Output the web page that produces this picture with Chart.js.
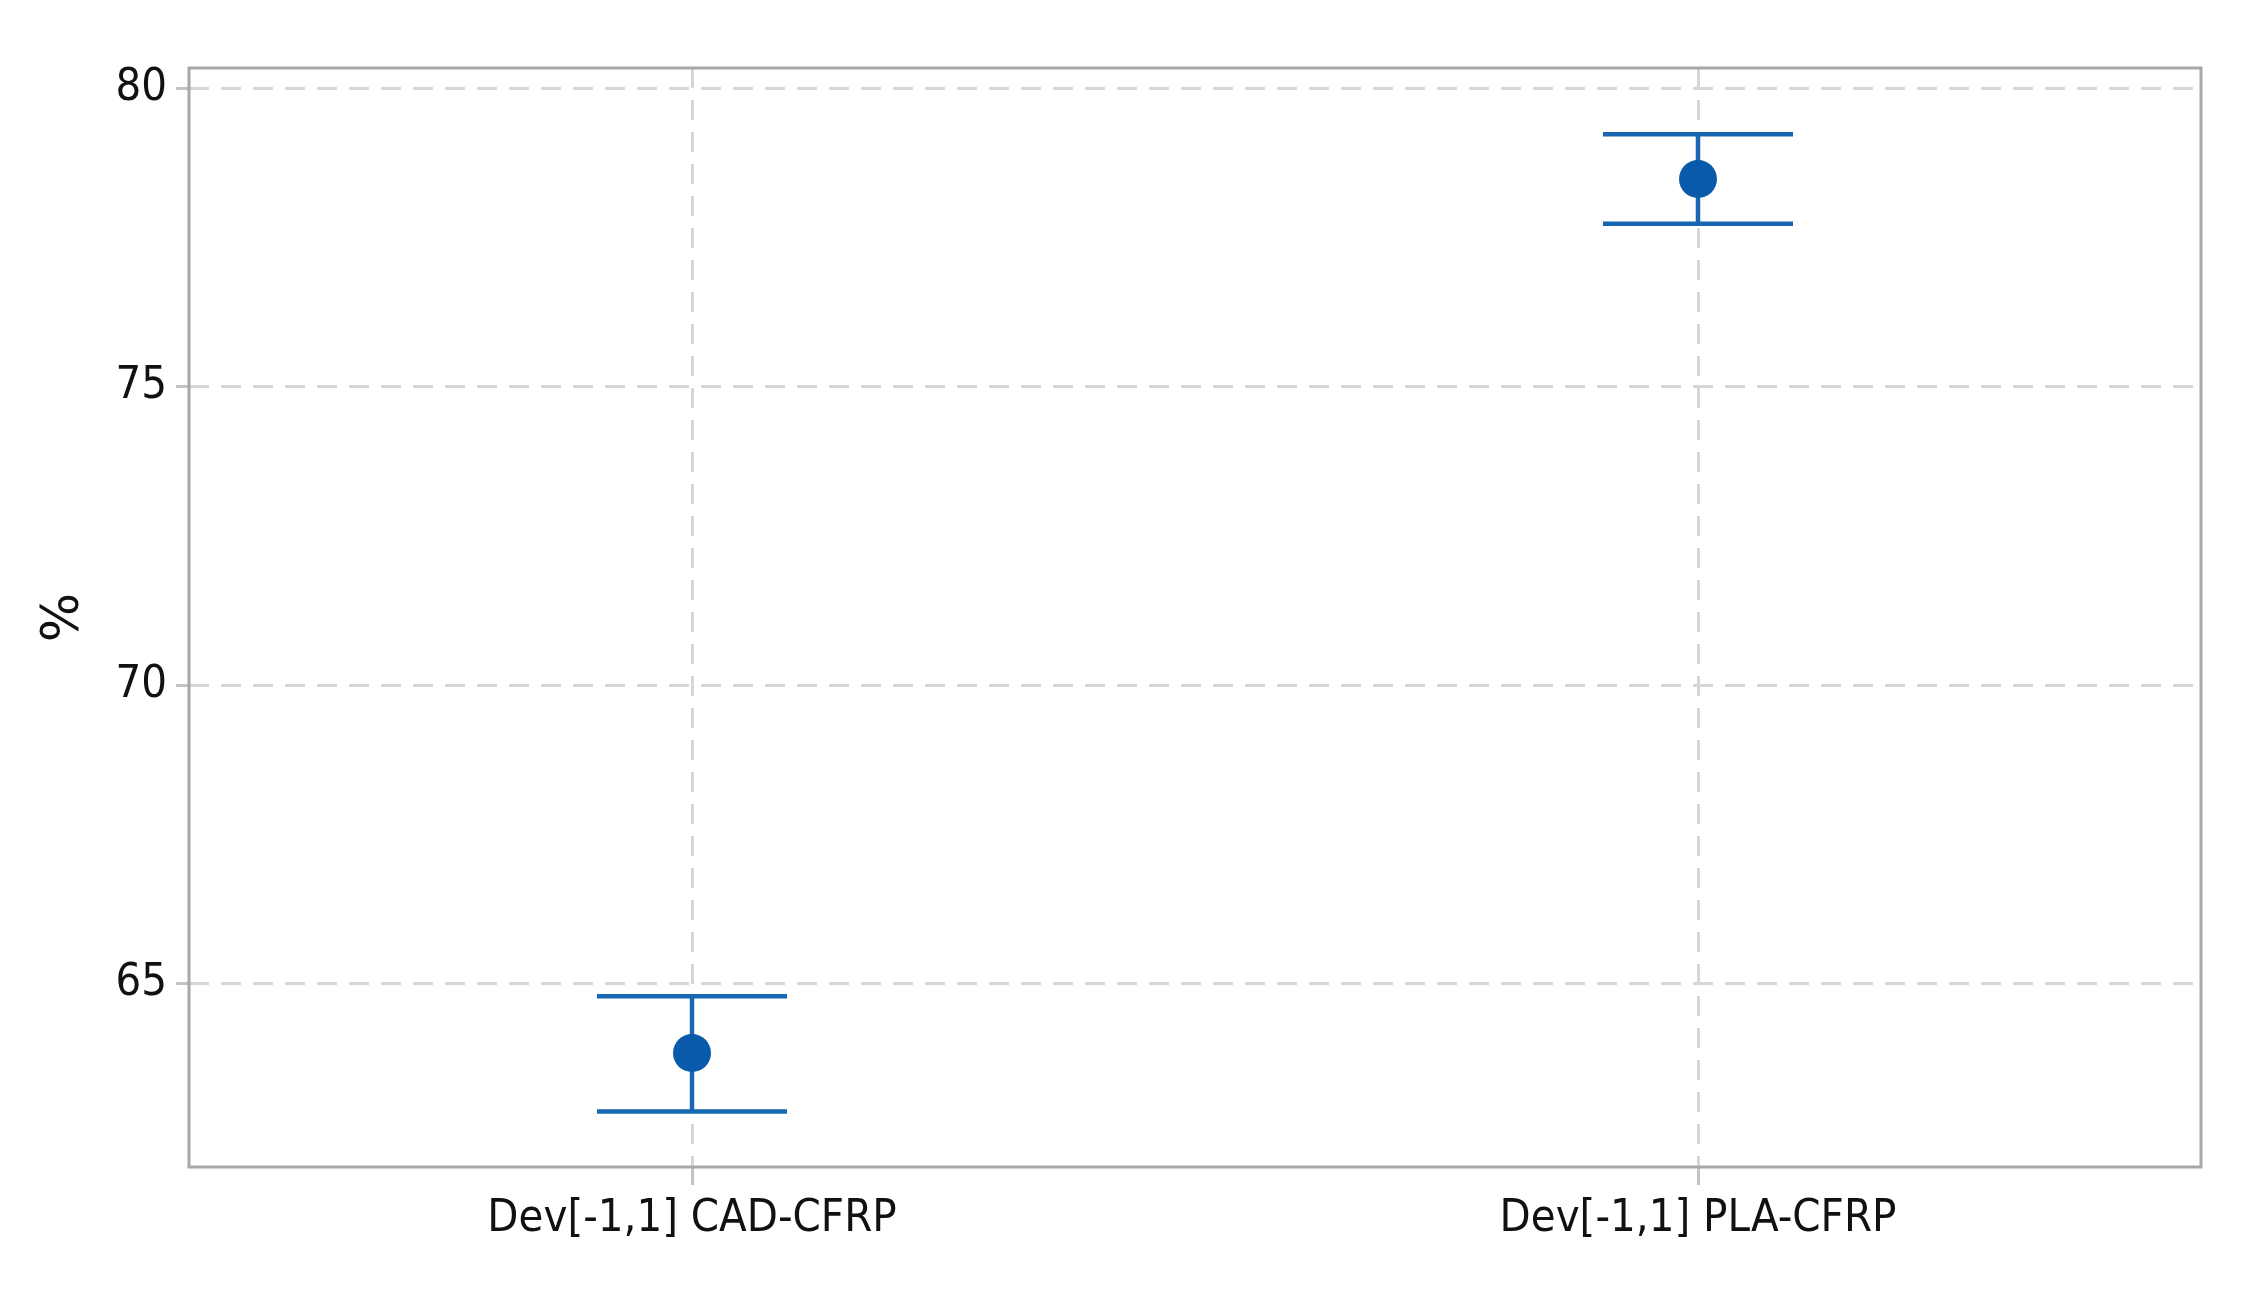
<!DOCTYPE html>
<html><head><meta charset="utf-8">
<script src="https://cdn.jsdelivr.net/npm/chart.js@4/dist/chart.umd.min.js"></script>
<style>html,body{margin:0;padding:0;background:#fff}#wrap{width:2246px;height:1289px}</style>
</head><body><div id="wrap"><canvas id="c" width="2246" height="1289"></canvas></div>
<script>
const categories = ['Dev[-1,1] CAD-CFRP', 'Dev[-1,1] PLA-CFRP'];
const meanValues = [63.84, 78.48];
const lowerValues = [62.86, 77.73];
const upperValues = [64.79, 79.23];
const yTickValues = [65, 70, 75, 80];
const yAxisTitle = '%';
const yMin = 61.93, yMax = 80.34;

const FONT = "'DejaVu Sans Condensed', 'DejaVu Sans', sans-serif";
const LINE_COLOR = '#1768b0';
const POINT_COLOR = '#0a5aab';

const framePlugin = {
  id: 'frameAndErrors',
  beforeDatasetsDraw(chart) {
    const {ctx, chartArea: a, scales} = chart;
    ctx.save();
    ctx.strokeStyle = '#a8a8a8';
    ctx.lineWidth = 3;
    ctx.strokeRect(a.left, a.top, a.right - a.left, a.bottom - a.top);
    ctx.strokeStyle = LINE_COLOR;
    ctx.lineWidth = 4.5;
    const capHalf = 95;
    categories.forEach((c, i) => {
      const x = scales.x.getPixelForValue(i);
      const yl = scales.y.getPixelForValue(lowerValues[i]);
      const yu = scales.y.getPixelForValue(upperValues[i]);
      ctx.beginPath();
      ctx.moveTo(x, yl); ctx.lineTo(x, yu);
      ctx.moveTo(x - capHalf, yl); ctx.lineTo(x + capHalf, yl);
      ctx.moveTo(x - capHalf, yu); ctx.lineTo(x + capHalf, yu);
      ctx.stroke();
    });
    ctx.restore();
  }
};

new Chart(document.getElementById('c'), {
  type: 'line',
  data: {
    labels: categories,
    datasets: [{
      data: meanValues,
      showLine: false,
      pointRadius: 19,
      pointHoverRadius: 19,
      pointBackgroundColor: POINT_COLOR,
      pointBorderColor: POINT_COLOR,
      pointBorderWidth: 0
    }]
  },
  options: {
    responsive: false,
    devicePixelRatio: 1,
    animation: false,
    layout: {padding: {left: 0, top: 68, right: 45, bottom: 0}},
    plugins: {legend: {display: false}, tooltip: {enabled: false}},
    scales: {
      x: {
        offset: true,
        grid: {offset: false, color: '#d6d6d6', lineWidth: 3, tickLength: 18, tickColor: '#c4c4c4', tickWidth: 3},
        border: {display: false, dash: [20, 12]},
        ticks: {color: '#111', padding: 7, font: {family: FONT, size: 45}, maxRotation: 0},
        afterFit(s) { s.height = 122; }
      },
      y: {
        min: yMin, max: yMax,
        afterBuildTicks(s) { s.ticks = yTickValues.map(v => ({value: v})); },
        grid: {color: '#d6d6d6', lineWidth: 3, tickLength: 13, tickColor: '#c4c4c4', tickWidth: 3},
        border: {display: false, dash: [20, 12]},
        ticks: {color: '#111', padding: 9, font: {family: FONT, size: 45}},
        title: {display: true, text: yAxisTitle, color: '#111', font: {family: "'DejaVu Sans', sans-serif", size: 52}, padding: {top: 33, bottom: 0}},
        afterFit(s) { s.width = 189; }
      }
    }
  },
  plugins: [framePlugin]
});
</script></body></html>
